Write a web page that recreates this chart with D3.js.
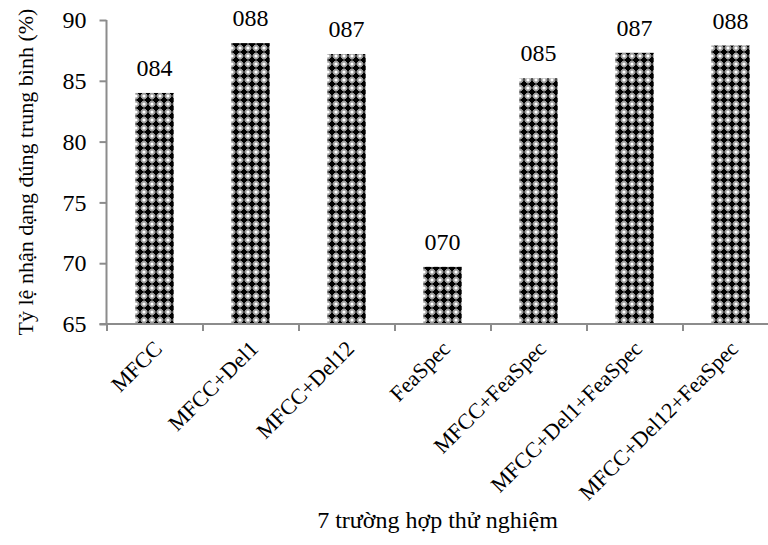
<!DOCTYPE html>
<html>
<head>
<meta charset="utf-8">
<script src="https://cdn.jsdelivr.net/npm/d3@7/dist/d3.min.js"></script>
<style>
  html, body { margin: 0; padding: 0; background: #fff; }
  svg { display: block; }
  text { font-family: "Liberation Serif", "Times New Roman", serif; fill: #000; }
</style>
</head>
<body>
<svg id="chart" width="768" height="545"></svg>
<script>
// Recognition rate for each feature configuration
const categories = ["MFCC", "MFCC+Del1", "MFCC+Del12", "FeaSpec", "MFCC+FeaSpec", "MFCC+Del1+FeaSpec", "MFCC+Del12+FeaSpec"];
const rates = [84.0, 88.1, 87.2, 69.7, 85.2, 87.3, 87.9];
const yTicks = [65, 70, 75, 80, 85, 90];
const yTitle = "Tỷ lệ nhận dạng đúng trung bình (%)";
const xTitle = "7 trường hợp thử nghiệm";

const svg = d3.select("#chart");
const plotLeft = 106.5, plotTop = 20, plotBottom = 324, step = 96;
const plotRight = plotLeft + step * categories.length;
const serif = "Liberation Serif, Times New Roman, serif";

const y = d3.scaleLinear().domain([65, 90]).range([plotBottom, plotTop]);
const x = d3.scaleBand().domain(categories).range([plotLeft, plotRight]).padding(0);
const edges = d3.scaleLinear().domain([0, categories.length]).range([plotLeft, plotRight]);

// Cross-and-dot fill used for the bars
const defs = svg.append("defs");
const pat = defs.append("pattern")
  .attr("id", "crossdots").attr("patternUnits", "userSpaceOnUse")
  .attr("width", 8).attr("height", 8);
pat.append("rect").attr("width", 8).attr("height", 8).attr("fill", "#9a9a9a");
pat.append("rect").attr("x", 3).attr("y", 0.5).attr("width", 2).attr("height", 7).attr("fill", "#000");
pat.append("rect").attr("x", 0.5).attr("y", 3).attr("width", 7).attr("height", 2).attr("fill", "#000");
pat.append("rect").attr("x", 2).attr("y", 2).attr("width", 4).attr("height", 4).attr("fill", "#000");
[[0, 0], [8, 0], [0, 8], [8, 8]].forEach(([cx, cy]) =>
  pat.append("circle").attr("cx", cx).attr("cy", cy).attr("r", 1.6).attr("fill", "#fff"));

// Bars
const barW = x.bandwidth() * 0.4;
svg.append("g").selectAll("rect").data(rates).join("rect")
  .attr("x", (d, i) => x(categories[i]) + (x.bandwidth() - barW) / 2)
  .attr("y", d => y(d))
  .attr("width", barW)
  .attr("height", d => y(65) - y(d))
  .attr("fill", "url(#crossdots)");

// Value labels
const fmt = d3.format("03.0f");
svg.append("g").selectAll("text").data(rates).join("text")
  .attr("x", (d, i) => x(categories[i]) + x.bandwidth() / 2)
  .attr("y", d => y(d) - 17)
  .attr("text-anchor", "middle")
  .attr("font-size", 24)
  .text(d => fmt(d));

// Y axis
const yAxis = svg.append("g").attr("transform", `translate(${plotLeft},0)`)
  .call(d3.axisLeft(y).tickValues(yTicks).tickSize(7).tickPadding(13).tickFormat(d3.format("d")));
yAxis.selectAll("path, line").attr("stroke", "#8c8c8c").attr("stroke-width", 2);
yAxis.select(".domain").attr("d", `M0,${plotTop}V${plotBottom}`);
yAxis.selectAll("text").attr("font-size", 24).attr("font-family", serif).attr("fill", "#000");

// X axis: ticks on band edges, labels on band centres
const xTickAxis = svg.append("g").attr("transform", `translate(0,${plotBottom})`)
  .call(d3.axisBottom(edges).tickValues(d3.range(0, categories.length + 1)).tickSize(7).tickFormat(""));
xTickAxis.selectAll("path, line").attr("stroke", "#8c8c8c").attr("stroke-width", 2);
xTickAxis.select(".domain").attr("d", `M${plotLeft - 7},0H${plotRight}`);

const xLabels = svg.append("g").attr("transform", `translate(0,${plotBottom})`)
  .call(d3.axisBottom(x).tickSize(0).tickFormat(d => d));
xLabels.select(".domain").remove();
xLabels.selectAll("text")
  .attr("font-size", 22).attr("font-family", serif).attr("fill", "#000")
  .attr("text-anchor", "end").attr("dy", 0).attr("y", 0)
  .attr("transform", "translate(9,26) rotate(-45)");

// Axis titles
svg.append("text")
  .attr("transform", `translate(33,${(plotTop + plotBottom) / 2}) rotate(-90)`)
  .attr("text-anchor", "middle").attr("font-size", 22)
  .text(yTitle);
svg.append("text")
  .attr("x", (plotLeft + plotRight) / 2 - 5).attr("y", 528)
  .attr("text-anchor", "middle").attr("font-size", 24)
  .text(xTitle);
</script>
</body>
</html>
